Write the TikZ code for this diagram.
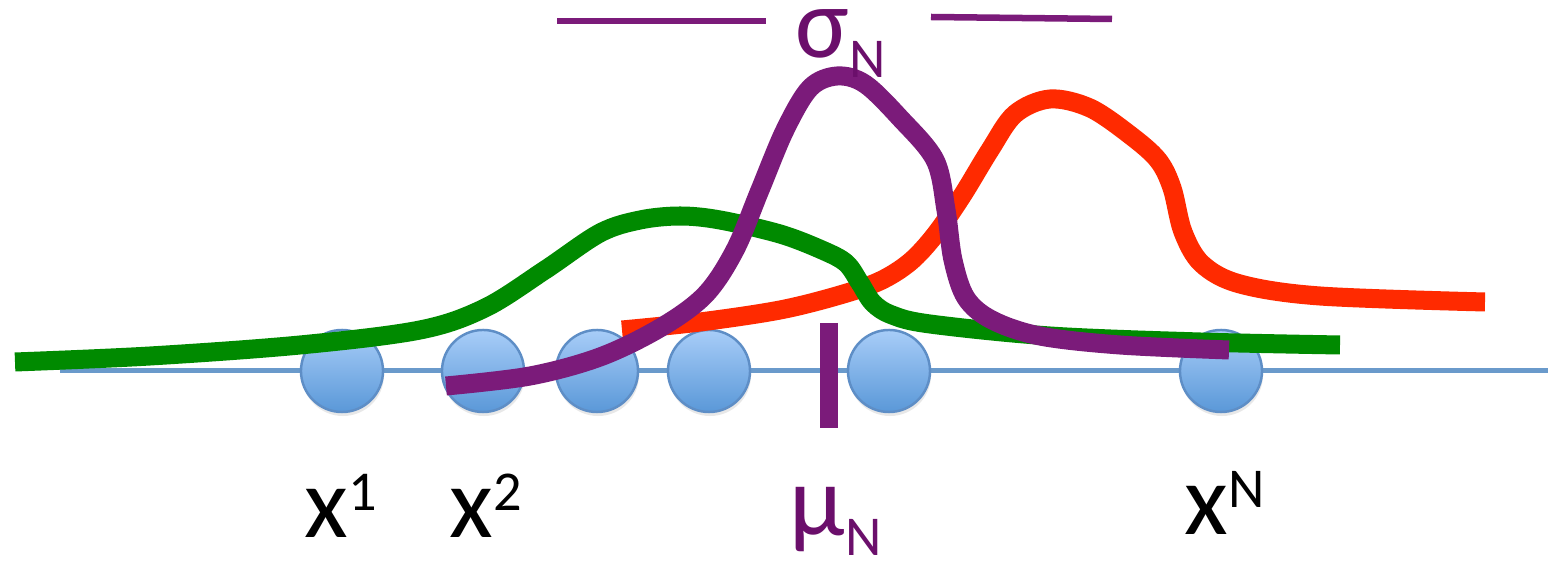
\documentclass[tikz,border=0pt]{standalone}
\usepackage{fontspec}
\setmainfont{Carlito}
\usetikzlibrary{shadows}
\definecolor{axisblue}{HTML}{6A9ACB}
\definecolor{ballTop}{HTML}{A8CDF8}
\definecolor{ballBot}{HTML}{5A98D8}
\definecolor{ballEdge}{HTML}{5E8EC6}
\definecolor{cgreen}{HTML}{008A00}
\definecolor{cred}{HTML}{FF2A00}
\definecolor{cpurple}{HTML}{7B1B7A}
\definecolor{tpurple}{HTML}{6B0F6B}
\newcommand{\supx}[1]{\raisebox{0.27cm}{\fontsize{16}{16}\selectfont #1}}
\newcommand{\subx}[1]{\raisebox{-0.19cm}{\fontsize{16}{16}\selectfont #1}}
\tikzset{
  ball/.style={circle, minimum size=0.82cm, inner sep=0pt, draw=ballEdge, line width=0.7pt,
    top color=ballTop, bottom color=ballBot,
    drop shadow={opacity=0.18, shadow xshift=0.01cm, shadow yshift=-0.04cm}},
  curve/.style={line width=0.19cm, line cap=butt, line join=round},
  lbl/.style={anchor=base west, inner sep=0pt, font=\fontsize{28.7}{30}\selectfont},
  sigline/.style={cpurple, line width=0.065cm},
}
\begin{document}
\begin{tikzpicture}[x=0.01cm, y=-0.01cm]
\useasboundingbox (0,0) rectangle (1550,561);
% axis
\coordinate (axL) at (60,371);
\coordinate (axR) at (1548,371);
\draw[axisblue, line width=0.05cm] (axL) -- (axR);
% balls
\foreach \n/\x in {1/342,2/483,3/597,4/709,5/889,6/1221}
  \node[ball] (c\n) at (\x,371) {};
% mean bar
\coordinate (muT) at (829,323);
\coordinate (muB) at (829,428);
\draw[cpurple, line width=0.17cm] (muT) -- (muB);
% red curve
\draw[curve, cred] plot[smooth, tension=0.55] coordinates {
  (622,330) (700,322) (780,310) (840,295) (880,281) (910,262) (935,235)
  (962,196) (990,150) (1015,114) (1050,99) (1090,108) (1130,135)
  (1158,160) (1172,188) (1183,232) (1202,264) (1240,284) (1320,296) (1485,302)};
% green curve
\draw[curve, cgreen] plot[smooth, tension=0.55] coordinates {
  (15,362) (150,356) (300,345) (420,330) (485,308) (545,270) (600,233)
  (640,220) (680,216) (720,220) (780,234) (822,250) (846,263) (860,283)
  (873,303) (892,315) (930,324) (1050,336) (1200,342) (1340,345)};
% purple curve
\draw[curve, cpurple] plot[smooth, tension=0.55] coordinates {
  (446,386) (530,376) (600,357) (660,328) (705,295) (735,250) (760,190)
  (785,130) (810,88) (837,76) (865,84) (900,118) (935,160) (946,210)
  (953,260) (966,298) (992,320) (1040,336) (1120,345) (1229,350)};
% sigma lines
\coordinate (sL1) at (557,21);
\coordinate (sL2) at (766,21);
\coordinate (sR1) at (931,17);
\coordinate (sR2) at (1112,19);
\draw[sigline] (sL1) -- (sL2);
\draw[sigline] (sR1) -- (sR2);
% labels
\node[lbl] (lx1) at (304,538) {x\supx{1}};
\node[lbl] (lx2) at (449,538) {x\supx{2}};
\node[lbl] (lxN) at (1184,535) {x\supx{N}};
\node[lbl, text=tpurple] (lmu) at (789,536) {μ\subx{N}};
\node[lbl, text=tpurple] (lsig) at (795,58) {σ\subx{N}};
\end{tikzpicture}
\end{document}
